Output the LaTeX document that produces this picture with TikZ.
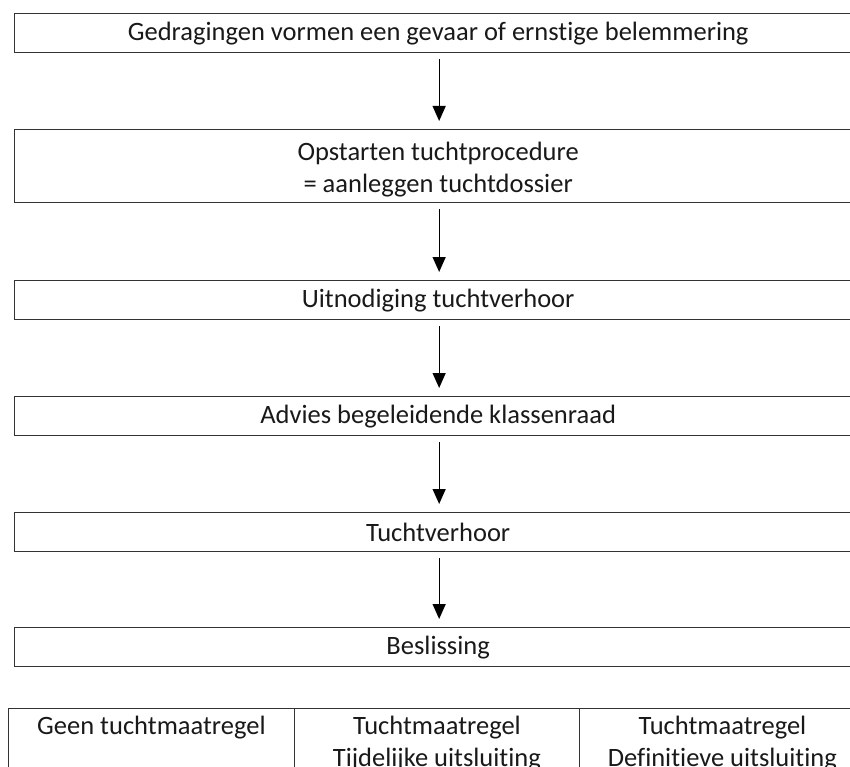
\documentclass[tikz,border=0pt]{standalone}
\usepackage{fontspec}
\setmainfont[Ligatures=NoCommon]{Carlito}
\usetikzlibrary{arrows.meta}
\begin{document}
\begin{tikzpicture}[x=1pt,y=-1pt,
  box/.style={draw=black!80, line width=1.3pt, anchor=north west, minimum width=847pt, minimum height=39pt, inner sep=0pt, align=center, font=\fontsize{26.5}{32.5}\selectfont, text=black!90},
  cell/.style={draw=black!80, line width=1.3pt, anchor=north west, minimum width=285.5pt, inner xsep=0pt, inner ysep=7pt, font=\fontsize{26.5}{32.5}\selectfont, text=black!90},
  arr/.style={draw=black, line width=1.3pt, -{Triangle[width=13pt,length=15pt]}, shorten <=6pt, shorten >=8pt}]
\useasboundingbox (0,0) rectangle (850,767);
\clip (0,0) rectangle (850,767);
\node[box] (b1) at (14,13) {Gedragingen vormen een gevaar of ernstige belemmering};
\node[box, minimum height=73pt] (b2) at (14,129) {\raisebox{-3.5pt}[\height][\depth]{\parbox{600pt}{\centering Opstarten tuchtprocedure\\= aanleggen tuchtdossier}}};
\node[box] (b3) at (14,280) {Uitnodiging tuchtverhoor};
\node[box] (b4) at (14,396) {Advies begeleidende klassenraad};
\node[box] (b5) at (14,512) {Tuchtverhoor};
\node[box] (b6) at (14,627) {Beslissing};
\draw[arr] ([xshift=1pt]b1.south) -- ([xshift=1pt]b2.north);
\draw[arr] ([xshift=1pt]b2.south) -- ([xshift=1pt]b3.north);
\draw[arr] ([xshift=1pt]b3.south) -- ([xshift=1pt]b4.north);
\draw[arr] ([xshift=1pt]b4.south) -- ([xshift=1pt]b5.north);
\draw[arr] ([xshift=1pt]b5.south) -- ([xshift=1pt]b6.north);
\node[cell] (c1) at (8,708) {\parbox[t][110pt][t]{285pt}{\centering Geen tuchtmaatregel}};
\node[cell] (c2) at (293.5,708) {\parbox[t][110pt][t]{285pt}{\centering Tuchtmaatregel\\Tijdelijke uitsluiting}};
\node[cell] (c3) at (579,708) {\parbox[t][110pt][t]{285pt}{\centering Tuchtmaatregel\\Definitieve uitsluiting}};
\end{tikzpicture}
\end{document}
